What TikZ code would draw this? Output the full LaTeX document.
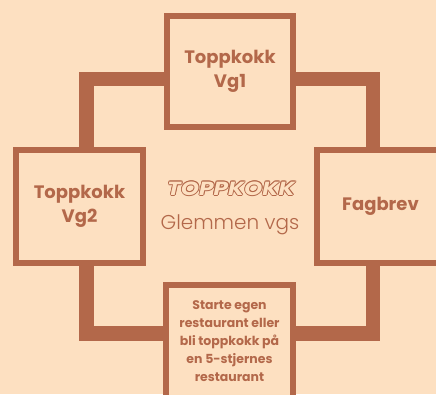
\documentclass[tikz,border=0pt]{standalone}
\usepackage{fontspec}
\setmainfont{Poppins}[BoldFont={* Bold}, ItalicFont={* Italic}, BoldItalicFont={* Bold Italic}]
\newfontfamily\lightf{Poppins Light}
\definecolor{bg}{HTML}{FDE0C1}
\definecolor{brn}{HTML}{B3684A}
\tikzset{
  stepbox/.style={draw=brn, fill=bg, line width=6.5pt, rectangle, inner sep=0pt, align=center, text=brn, font=\bfseries},
  frameline/.style={draw=brn, line width=14.5pt},
  titlefont/.style={font=\bfseries\itshape\fontsize{19}{19}\selectfont},
}
\begin{document}
\begin{tikzpicture}[x=1pt,y=-1pt]
\useasboundingbox (0,0) rectangle (436,394);
\fill[bg] (0,0) rectangle (436,394);
\clip (0,0) rectangle (436,394);
\coordinate (ftl) at (86.5,79);
\coordinate (fbr) at (373,333.5);
\draw[frameline] (ftl) rectangle (fbr);
\node[stepbox, minimum width=126pt, minimum height=111pt, font=\bfseries\fontsize{18}{24}\selectfont] (vg1) at (230,71.5) {Toppkokk\\Vg1};
\node[stepbox, minimum width=127pt, minimum height=113pt, font=\bfseries\fontsize{18}{24}\selectfont] (vg2) at (79.5,206.5) {Toppkokk\\Vg2};
\node[stepbox, minimum width=127pt, minimum height=113pt, font=\bfseries\fontsize{18}{24}\selectfont] (fag) at (380.5,206.5) {Fagbrev};
\node[stepbox, minimum width=127pt, minimum height=113pt] (end) at (229.5,341.5) {};
\node[text=brn, font=\bfseries\fontsize{12.5}{18}\selectfont, align=center] (endtxt) at (229.5,341.5) {Starte egen\\restaurant eller\\bli toppkokk på\\en 5-stjernes\\restaurant};
\foreach \dx/\dy in {-0.9/0,0.9/0,0/-0.9,0/0.9,-0.65/-0.65,0.65/0.65,-0.65/0.65,0.65/-0.65}{
  \node[text=brn, titlefont] at (231+\dx,188.5+\dy) {\scalebox{1.22}[1]{TOPPKOKK}};
}
\node[text=bg, titlefont] (title) at (231,188.5) {\scalebox{1.22}[1]{TOPPKOKK}};
\node[text=brn, font=\lightf\fontsize{20}{20}\selectfont] (school) at (230,224.5) {Glemmen vgs};
\end{tikzpicture}
\end{document}
